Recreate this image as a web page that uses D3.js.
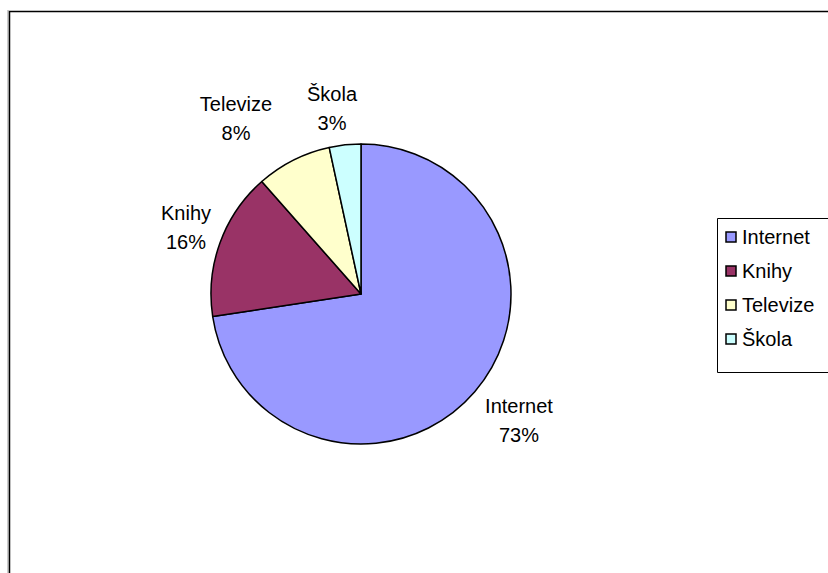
<!DOCTYPE html>
<html><head><meta charset="utf-8">
<script src="https://cdn.jsdelivr.net/npm/d3@7"></script>
<style>body{margin:0;background:#fff}svg{display:block}text{font-family:"Liberation Sans",Arial,sans-serif;font-size:20px;fill:#000}</style>
</head><body>
<svg id="c" width="828" height="573"></svg>
<script>
const categories = ["Internet","Knihy","Televize","Škola"];
const values = [72.6,15.9,8.1,3.4];
const labels = ["73%","16%","8%","3%"];
const colors = ["#9999FF","#993366","#FFFFCC","#CCFFFF"];

const svg = d3.select("#c");
// chart frame
svg.append("line").attr("x1",8).attr("y1",10).attr("x2",8).attr("y2",573).attr("stroke","#999").attr("stroke-width",1);
svg.append("path").attr("d","M9.5,573 V11.5 H828").attr("fill","none").attr("stroke","#000").attr("stroke-width",1.5);

const cx = 361, cy = 294, r = 150;
const pie = d3.pie().sort(null).value(d=>d)(values);
const arc = d3.arc().innerRadius(0).outerRadius(r);
const g = svg.append("g").attr("transform",`translate(${cx},${cy})`);
g.selectAll("path").data(pie).join("path")
  .attr("d",arc).attr("fill",(d,i)=>colors[i])
  .attr("stroke","#000").attr("stroke-width",1.5).attr("stroke-linejoin","round");

const manual = [[519,406],[186,213],[236,104],[332,94]];
categories.forEach((c,i)=>{
  const [x,y] = manual[i];
  const t = svg.append("text").attr("text-anchor","middle");
  t.append("tspan").attr("x",x).attr("y",y+7).text(c);
  t.append("tspan").attr("x",x).attr("y",y+36).text(labels[i]);
});

// legend
svg.append("path").attr("d","M717.5,218.5 H828 M717.5,218.5 V372.5 H828").attr("fill","none").attr("stroke","#000").attr("stroke-width",1);
const ly = d3.scalePoint().domain(categories).range([237,339]);
categories.forEach((c,i)=>{
  svg.append("rect").attr("x",726).attr("y",ly(c)-5).attr("width",10).attr("height",10)
    .attr("fill",colors[i]).attr("stroke","#000").attr("stroke-width",1.5);
  svg.append("text").attr("x",742).attr("y",ly(c)+7).text(c);
});
</script>
</body></html>
